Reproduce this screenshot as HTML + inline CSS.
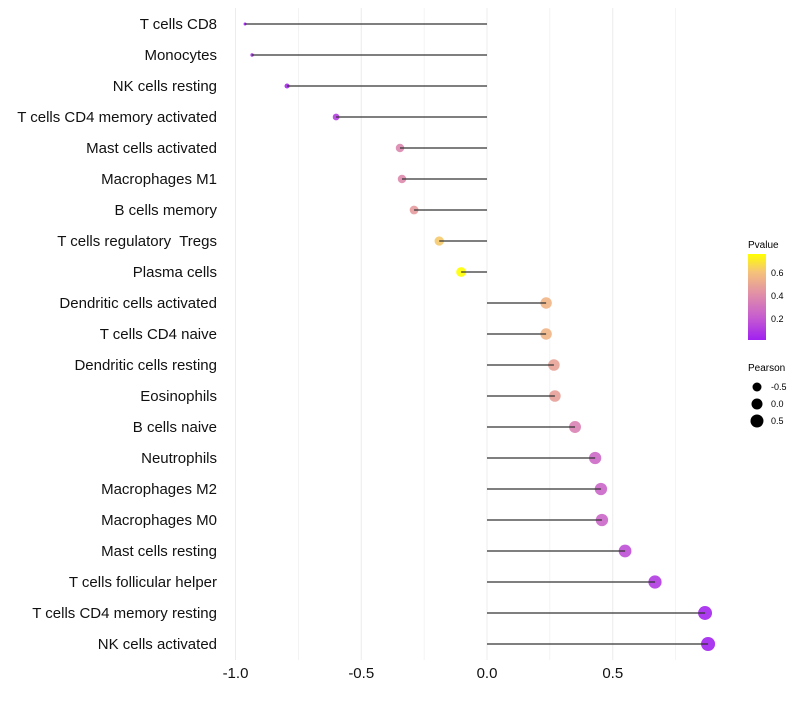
<!DOCTYPE html>
<html><head><meta charset="utf-8"><style>
body{margin:0;background:#fff;font-family:"Liberation Sans",sans-serif}
text{white-space:pre}
</style></head><body>
<svg id="chart" width="800" height="700" xmlns="http://www.w3.org/2000/svg" font-family="Liberation Sans, sans-serif">
<defs><linearGradient id="pg" x1="0" y1="1" x2="0" y2="0">
<stop offset="0" stop-color="#a020f0"/><stop offset="0.26" stop-color="#c65cd0"/><stop offset="0.53" stop-color="#e08ea8"/><stop offset="0.79" stop-color="#f5c27a"/><stop offset="1" stop-color="#ffff00"/>
</linearGradient></defs>
<g id="grid"></g>
<g id="marks"></g>
<g id="ylabels"></g>
<g id="xlabels"></g>
<g>
<text x="748" y="248" font-size="10">Pvalue</text>
<rect x="748" y="254" width="18" height="86" fill="url(#pg)"/>
<text x="771" y="276" font-size="9">0.6</text>
<text x="771" y="299" font-size="9">0.4</text>
<text x="771" y="322" font-size="9">0.2</text>
</g>
<g>
<text x="748" y="371" font-size="10">Pearson</text>
<circle cx="757" cy="387" r="4.5"/>
<text x="771" y="390" font-size="9">-0.5</text>
<circle cx="757" cy="404" r="5.5"/>
<text x="771" y="407" font-size="9">0.0</text>
<circle cx="757" cy="421" r="6.5"/>
<text x="771" y="424" font-size="9">0.5</text>
</g>
</svg>
<script>
const categories=["T cells CD8","Monocytes","NK cells resting","T cells CD4 memory activated","Mast cells activated","Macrophages M1","B cells memory","T cells regulatory  Tregs","Plasma cells","Dendritic cells activated","T cells CD4 naive","Dendritic cells resting","Eosinophils","B cells naive","Neutrophils","Macrophages M2","Macrophages M0","Mast cells resting","T cells follicular helper","T cells CD4 memory resting","NK cells activated"];
const pearson=[-0.962,-0.934,-0.795,-0.60,-0.346,-0.338,-0.29,-0.19,-0.103,0.235,0.235,0.266,0.27,0.35,0.43,0.453,0.457,0.549,0.668,0.867,0.879];
const pvalue=[0.0,0.01,0.03,0.1,0.37,0.38,0.45,0.62,0.76,0.55,0.55,0.48,0.47,0.35,0.25,0.24,0.24,0.16,0.09,0.02,0.01];
const xTicks=[-1.0,-0.5,0.0,0.5];
const xTickLabels=["-1.0","-0.5","0.0","0.5"];
const NS="http://www.w3.org/2000/svg";
const x=v=>487+v*251.5;
const y=i=>24+i*31;
const stops=[[0,[160,32,240]],[0.2,[198,92,208]],[0.4,[224,142,168]],[0.6,[245,194,122]],[0.76,[255,255,0]]];
function col(p){for(let k=1;k<stops.length;k++){if(p<=stops[k][0]||k==stops.length-1){const a=stops[k-1],b=stops[k];let t=(p-a[0])/(b[0]-a[0]);t=Math.max(0,Math.min(1,t));return "rgb("+a[1].map((c,j)=>Math.round(c+(b[1][j]-c)*t)).join(",")+")";}}}
const pmin=-0.962,pmax=0.879;
const rad=v=>Math.sqrt(9+(v-pmin)/(pmax-pmin)*187)/2;
function mk(tag,at,par){const e=document.createElementNS(NS,tag);for(const k in at)e.setAttribute(k,at[k]);par.appendChild(e);return e;}
const grid=document.getElementById('grid'),marks=document.getElementById('marks'),yl=document.getElementById('ylabels'),xl=document.getElementById('xlabels');
for(let g=-1;g<=0.75;g+=0.25){const l=mk('line',{x1:x(g),x2:x(g),y1:8,y2:660,stroke:'#ececec','stroke-width':g%0.5===0?1:0.6},grid);

}
categories.forEach((c,i)=>{
const cc=mk('circle',{cx:x(pearson[i]),cy:y(i),r:rad(pearson[i]),fill:col(pvalue[i]),'fill-opacity':0.9},marks);


const s=mk('line',{x1:x(pearson[i]),x2:x(0),y1:y(i),y2:y(i),stroke:'#333','stroke-width':1.3},marks);


const t=mk('text',{x:217,y:y(i)+5,'font-size':15,'text-anchor':'end',fill:'#111'},yl);t.textContent=c;


});
xTicks.forEach((v,i)=>{const t=mk('text',{x:x(v),y:678,'font-size':15,'text-anchor':'middle',fill:'#111'},xl);t.textContent=xTickLabels[i];

});
</script>
</body></html>
